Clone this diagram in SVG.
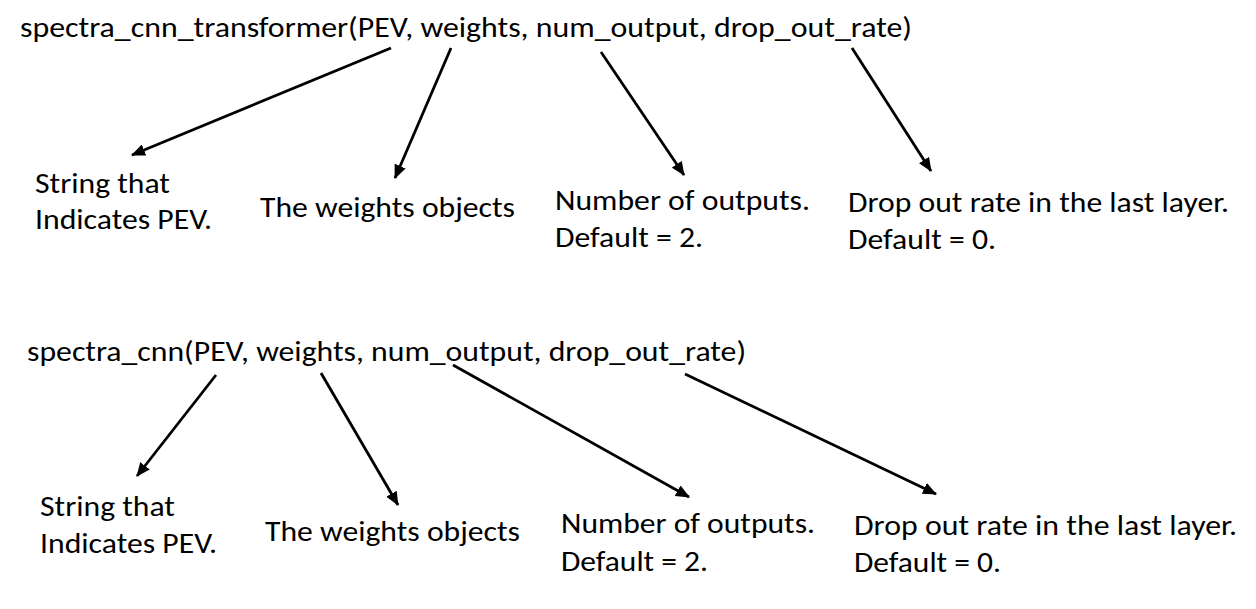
<svg xmlns="http://www.w3.org/2000/svg" width="1256" height="609" viewBox="0 0 1256 609">
<defs>
<marker id="ah" markerUnits="userSpaceOnUse" markerWidth="14" markerHeight="12" refX="13" refY="6" orient="auto">
<path d="M0,0 L14,6 L0,12 Z" fill="#000"/>
</marker>
<style>
text{font-family:Carlito,"Liberation Sans","Open Sans",sans-serif;font-size:29px;fill:#000}
.c line{stroke:#000;stroke-width:2.8;marker-end:url(#ah)}
</style>
</defs>
<rect width="1256" height="609" fill="#fff"/>
<g id="title1"><text x="20" y="37" textLength="892" lengthAdjust="spacingAndGlyphs">spectra_cnn_transformer(PEV, weights, num_output, drop_out_rate)</text></g>
<g id="t1_pev"><text x="35" y="193" textLength="135" lengthAdjust="spacingAndGlyphs">String that</text><text x="35" y="229" textLength="177" lengthAdjust="spacingAndGlyphs">Indicates PEV.</text></g>
<g id="t1_weights"><text x="260" y="217" textLength="255" lengthAdjust="spacingAndGlyphs">The weights objects</text></g>
<g id="t1_num"><text x="555" y="210" textLength="255" lengthAdjust="spacingAndGlyphs">Number of outputs.</text><text x="555" y="247" textLength="148" lengthAdjust="spacingAndGlyphs">Default = 2.</text></g>
<g id="t1_drop"><text x="848" y="212" textLength="381" lengthAdjust="spacingAndGlyphs">Drop out rate in the last layer.</text><text x="848" y="249" textLength="148" lengthAdjust="spacingAndGlyphs">Default = 0.</text></g>
<g id="title2"><text x="27" y="361" textLength="719" lengthAdjust="spacingAndGlyphs">spectra_cnn(PEV, weights, num_output, drop_out_rate)</text></g>
<g id="t2_pev"><text x="40" y="516" textLength="135" lengthAdjust="spacingAndGlyphs">String that</text><text x="40" y="553" textLength="177" lengthAdjust="spacingAndGlyphs">Indicates PEV.</text></g>
<g id="t2_weights"><text x="265" y="541" textLength="255" lengthAdjust="spacingAndGlyphs">The weights objects</text></g>
<g id="t2_num"><text x="561" y="533" textLength="254" lengthAdjust="spacingAndGlyphs">Number of outputs.</text><text x="561" y="571" textLength="147" lengthAdjust="spacingAndGlyphs">Default = 2.</text></g>
<g id="t2_drop"><text x="854" y="535" textLength="383" lengthAdjust="spacingAndGlyphs">Drop out rate in the last layer.</text><text x="854" y="572" textLength="147" lengthAdjust="spacingAndGlyphs">Default = 0.</text></g>
<g class="c" id="connectors">
<line x1="391" y1="48" x2="132" y2="155"/>
<line x1="451" y1="48" x2="395" y2="178"/>
<line x1="601" y1="52" x2="684" y2="175"/>
<line x1="852" y1="48" x2="931" y2="171"/>
<line x1="216" y1="375" x2="137" y2="476"/>
<line x1="321" y1="373" x2="398" y2="505"/>
<line x1="453" y1="365" x2="689" y2="497"/>
<line x1="685" y1="374" x2="936" y2="494"/>
</g>
</svg>
